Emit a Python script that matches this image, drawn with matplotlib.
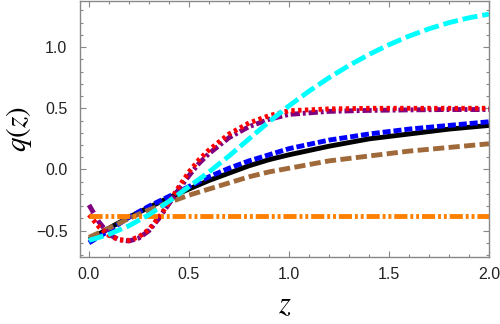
import numpy as np
import matplotlib
matplotlib.use("Agg")
import matplotlib.pyplot as plt
from matplotlib.ticker import MultipleLocator

plt.rcParams['font.family'] = ['Liberation Sans', 'DejaVu Sans']
plt.rcParams['mathtext.fontset'] = 'stix'

# data
z_s = [0.0, 0.1, 0.2, 0.3, 0.4, 0.5, 0.6, 0.7, 0.8, 0.9, 1.0, 1.2, 1.4, 1.6, 1.8, 2.0]
q_black = [-0.575, -0.48, -0.39, -0.31, -0.23, -0.16, -0.09, -0.03, 0.03, 0.08, 0.12,
           0.19, 0.25, 0.29, 0.33, 0.36]
q_blue = [-0.60, -0.50, -0.39, -0.30, -0.22, -0.14, -0.06, 0.01, 0.07, 0.12, 0.17,
          0.24, 0.29, 0.33, 0.36, 0.39]
q_brown = [-0.555, -0.48, -0.40, -0.33, -0.27, -0.21, -0.16, -0.11, -0.06, -0.02, 0.01,
           0.07, 0.11, 0.15, 0.18, 0.21]

z_c = [0.0, 0.1, 0.2, 0.3, 0.4, 0.5, 0.6, 0.7, 0.8, 0.9, 1.0,
       1.1, 1.2, 1.3, 1.4, 1.5, 1.6, 1.7, 1.8, 1.9, 2.0]
q_cyan = [-0.58, -0.53, -0.46, -0.37, -0.26, -0.14, -0.02, 0.11, 0.25, 0.39, 0.52,
          0.64, 0.75, 0.85, 0.94, 1.02, 1.09, 1.15, 1.20, 1.24, 1.27]

z_r = [0.0, 0.05, 0.1, 0.15, 0.2, 0.25, 0.3, 0.35, 0.4, 0.45, 0.5, 0.55, 0.6,
       0.7, 0.8, 0.9, 1.0, 1.2, 1.4, 1.6, 1.8, 2.0]
q_red = [-0.37, -0.47, -0.54, -0.575, -0.58, -0.55, -0.49, -0.39, -0.27, -0.14, -0.02,
         0.08, 0.16, 0.29, 0.38, 0.44, 0.48, 0.495, 0.5, 0.5, 0.5, 0.5]
q_purple = [-0.29, -0.43, -0.53, -0.575, -0.585, -0.56, -0.50, -0.40, -0.28, -0.16, -0.05,
            0.05, 0.13, 0.26, 0.35, 0.41, 0.45, 0.475, 0.483, 0.487, 0.49, 0.49]

z_o = [0.0, 2.0]
q_orange = [-0.38, -0.38]

fig = plt.figure(figsize=(5.0, 3.24), dpi=100)
ax = fig.add_axes([0.16, 0.207, 0.818, 0.791])

lw = 3.5
ax.plot(z_s, q_black, color='black', lw=lw, solid_capstyle='butt')
ax.plot(z_s, q_blue, color='#0000ff', lw=lw, dashes=(1.65, 0.6))
ax.plot(z_s, q_brown, color='#a0693a', lw=lw, dashes=(2.3, 0.9))
ax.plot(z_r, q_purple, color='#800080', lw=lw, dashes=(1.9, 0.6, 0.6, 0.6))
ax.plot(z_r, q_red, color='#ff0000', lw=lw, dashes=(0.7, 0.7))
ax.plot(z_o, q_orange, color='#ff8000', lw=lw, dashes=(2.7, 0.6, 0.6, 0.6, 0.6, 0.6))
ax.plot(z_c, q_cyan, color='#00ffff', lw=lw, dashes=(3.1, 1.0))

ax.set_xlim(-0.045, 2.0)
ax.set_ylim(-0.715, 1.38)

ax.xaxis.set_major_locator(MultipleLocator(0.5))
ax.xaxis.set_minor_locator(MultipleLocator(0.1))
ax.yaxis.set_major_locator(MultipleLocator(0.5))
ax.yaxis.set_minor_locator(MultipleLocator(0.1))
ax.xaxis.set_major_formatter(lambda v, p: f'{v:.1f}'.replace('-', '\u2212'))
ax.yaxis.set_major_formatter(lambda v, p: f'{v:.1f}'.replace('-', '\u2212'))

for s in ax.spines.values():
    s.set_color('#888888')
    s.set_linewidth(1.0)
ax.tick_params(which='both', direction='in', top=True, right=True, color='#888888',
               width=0.8, labelsize=11.5, labelcolor='#222222')
ax.tick_params(axis='x', which='major', length=4, pad=7)
ax.tick_params(axis='y', which='major', length=4, pad=9)
ax.tick_params(which='minor', length=2)

ax.set_xlabel(r'$z$', fontsize=22, labelpad=6)
ax.set_ylabel(r'$q(z)$', fontsize=21, labelpad=1)

fig.savefig('out.png', dpi=100)
